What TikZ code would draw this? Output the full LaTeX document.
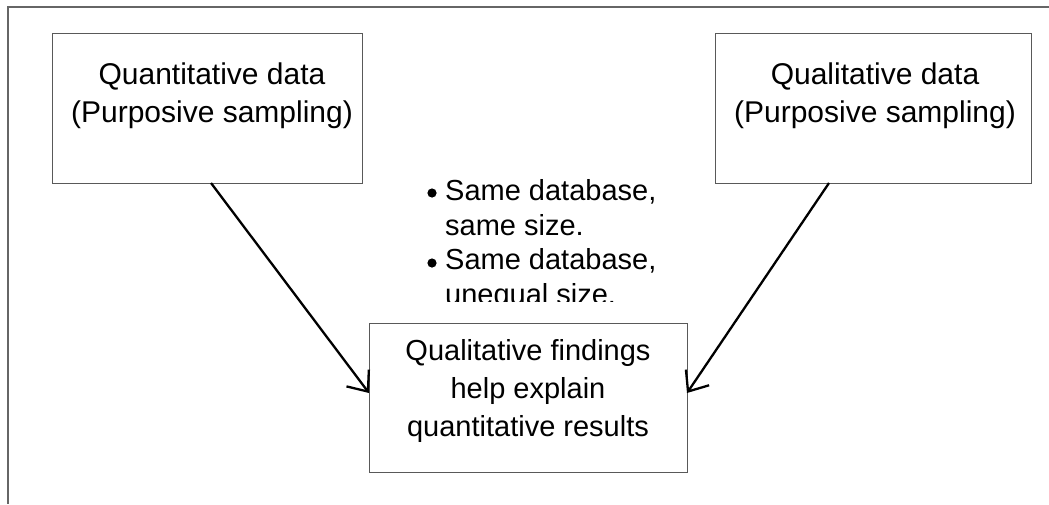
\documentclass[tikz,border=0pt]{standalone}
\usepackage{fontspec}
\setmainfont{Liberation Sans}
\usetikzlibrary{arrows.meta}
\begin{document}
\begin{tikzpicture}[x=1pt,y=-1pt,
  frame/.style={draw=black!60,line width=1.4pt},
  boxstyle/.style={draw=black!65,line width=1.3pt,inner sep=0pt,anchor=north west},
  ttxt/.style={inner sep=0pt,anchor=base,font=\fontsize{30}{38}\selectfont},
  txt/.style={inner sep=0pt,anchor=base,font=\fontsize{29}{35}\selectfont},
  btxt/.style={inner sep=0pt,anchor=base west,font=\fontsize{29}{35}\selectfont},
  arr/.style={draw=black,line width=2.3pt,-{Straight Barb[length=17pt,width=28pt,line width=2.3pt]}}]
\useasboundingbox (0,0) rectangle (1049,504);
% outer frame (top and left only)
\coordinate (ftl) at (8,7);
\coordinate (ftr) at (1049,7);
\coordinate (fbl) at (8,504);
\draw[frame] (ftr) -- (ftl) -- (fbl);
% boxes
\node[boxstyle,minimum width=310pt,minimum height=150pt] (b1) at (52,33) {};
\node[boxstyle,minimum width=316pt,minimum height=150pt] (b2) at (715,33) {};
\node[boxstyle,minimum width=318pt,minimum height=149pt] (b3) at (369,323) {};
% box texts
\node[ttxt] (t1a) at (212,84) {Quantitative data};
\node[ttxt] (t1b) at (212,122) {(Purposive sampling)};
\node[ttxt] (t2a) at (875,84) {Qualitative data};
\node[ttxt] (t2b) at (875,122) {(Purposive sampling)};
\node[txt] (t3a) at (528,360.5) {Qualitative findings};
\node[txt] (t3b) at (528,398.5) {help explain};
\node[txt] (t3c) at (528,436.5) {quantitative results};
% bullet list (clipped)
\begin{scope}
\clip (400,160) rectangle (720,301);
\fill (432,193) circle (4.6pt);
\fill (432,263) circle (4.6pt);
\node[btxt] (l1) at (445,200.5) {Same database,};
\node[btxt] (l2) at (445,235) {same size.};
\node[btxt] (l3) at (445,269.5) {Same database,};
\node[btxt] (l4) at (445,304) {unequal size.};
\end{scope}
% connectors
\coordinate (s1) at (211,183);
\coordinate (e1) at (369,393);
\coordinate (s2) at (829,183);
\coordinate (e2) at (687,393);
\draw[arr] (s1) -- (e1);
\draw[arr] (s2) -- (e2);
\end{tikzpicture}
\end{document}
